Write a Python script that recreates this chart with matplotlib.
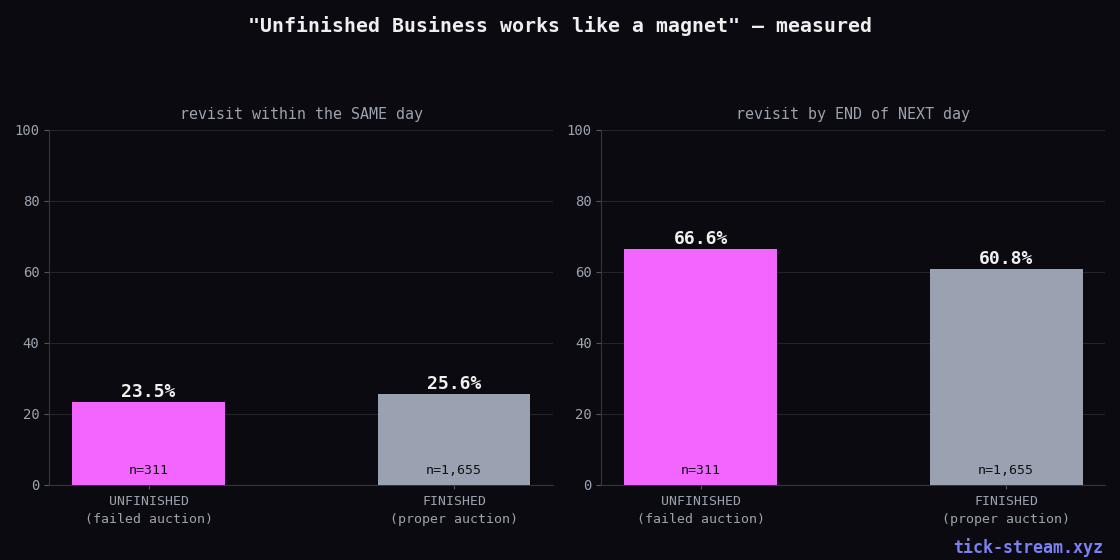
import matplotlib
matplotlib.use("Agg")
import matplotlib.pyplot as plt

# data
groups = ["UNFINISHED\n(failed auction)", "FINISHED\n(proper auction)"]
same_day = [23.5, 25.6]
next_day = [66.6, 60.8]
n_counts = ["n=311", "n=1,655"]
panel_titles = ["revisit within the SAME day", "revisit by END of NEXT day"]

BG = "#0b0a10"
GRID = "#25242c"
TXT = "#9ca3af"
BAR_COLORS = ["#f265ff", "#9aa1b0"]

plt.rcParams["font.family"] = ["DejaVu Sans Mono"]

fig, axes = plt.subplots(1, 2, figsize=(11.2, 5.6), dpi=100, facecolor=BG)
fig.subplots_adjust(left=0.044, right=0.987, top=0.768, bottom=0.134, wspace=0.095)

for ax, vals, title in zip(axes, [same_day, next_day], panel_titles):
    ax.set_facecolor(BG)
    x = list(range(len(groups)))
    ax.bar(x, vals, width=0.5, color=BAR_COLORS, zorder=3)
    ax.set_ylim(0, 100)
    ax.set_xticks(x)
    ax.set_xticklabels(groups, color=TXT, fontsize=9.5, linespacing=1.45)
    ax.tick_params(axis="y", colors=TXT, labelsize=10)
    ax.tick_params(axis="x", colors=TXT, length=3, pad=4.5)
    ax.tick_params(axis="both", color="#55555f")
    ax.grid(axis="y", color=GRID, linewidth=0.8, zorder=0)
    for side in ["top", "right"]:
        ax.spines[side].set_visible(False)
    for side in ["left", "bottom"]:
        ax.spines[side].set_color("#35343d")
    ax.set_title(title, color=TXT, fontsize=10.8, pad=8)
    for xi, v, n in zip(x, vals, n_counts):
        ax.annotate(f"{v}%", (xi, v), xytext=(0, 0.5), textcoords="offset points",
                    ha="center", va="bottom", color="#f0f0f0", fontsize=13, fontweight="bold")
        ax.text(xi, 4, n, ha="center", va="center", color="#111111", fontsize=9.5)

fig.suptitle('"Unfinished Business works like a magnet" — measured',
             color="#eeeeee", fontsize=14.3, fontweight="bold", y=0.972)
fig.text(0.985, 0.006, "tick-stream.xyz", ha="right", va="bottom",
         color="#7b80f2", fontsize=12, fontweight="bold")

fig.savefig("out.png", facecolor=BG)
